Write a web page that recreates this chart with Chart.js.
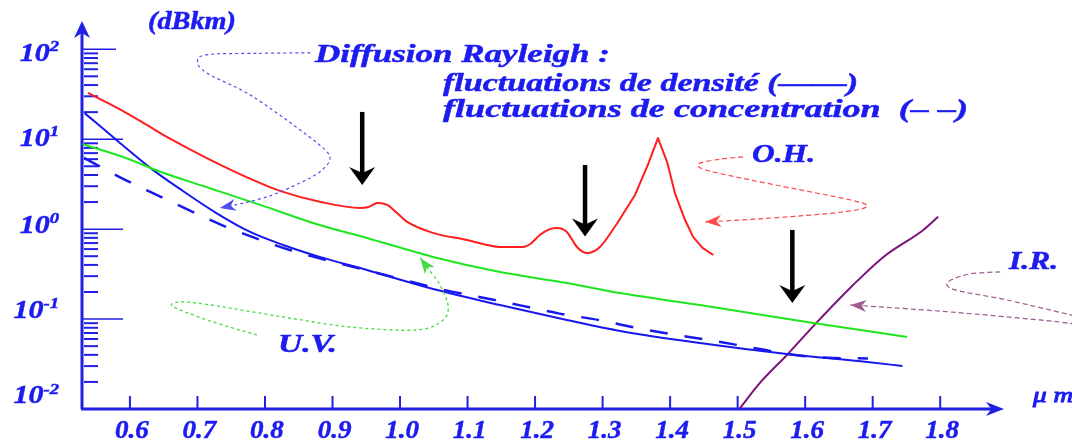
<!DOCTYPE html>
<html><head><meta charset="utf-8">
<script src="https://cdn.jsdelivr.net/npm/chart.js@4/dist/chart.umd.min.js"></script>
<style>html,body{margin:0;padding:0;background:#fff;overflow:hidden}#wrap{width:1072px;height:445px}</style>
</head><body><div id="wrap"><canvas id="c" width="1072" height="445"></canvas></div>
<script>
// ---- data (wavelength in µm, attenuation in dB/km) ----
const totalX = [0.538,0.566,0.595,0.625,0.654,0.719,0.788,0.822,0.881,0.941,0.953,0.967,0.981,0.996,1.010,1.049,1.099,1.148,1.182,1.193,1.207,1.222,1.233,1.247,1.262,1.277,1.296,1.321,1.348,1.367,1.382,1.396,1.407,1.422,1.434,1.448,1.464];
const totalY = [32.7,25.5,19.5,14.4,10.7,5.9,3.37,2.66,2.02,1.72,1.76,1.95,1.86,1.5,1.21,0.908,0.758,0.634,0.634,0.684,0.862,1.0,1.03,0.93,0.634,0.543,0.634,1.14,2.40,5.17,10.3,5.45,2.53,1.27,0.819,0.618,0.516];
const densX = [0.533,0.580,0.634,0.674,0.728,0.778,0.827,0.881,0.951,1.049,1.148,1.247,1.326,1.444,1.573,1.692,1.744];
const densY = [19.5,9.8,4.56,2.80,1.51,0.931,0.667,0.491,0.351,0.216,0.143,0.0977,0.0738,0.0542,0.0409,0.0333,0.0301];
const concX = [0.532,0.587,0.638,0.685,0.736,0.787,0.839,0.950,1.063,1.121,1.178,1.236,1.293,1.351,1.409,1.467,1.524,1.585,1.641,1.693];
const concY = [6.2,3.72,2.43,1.66,1.11,0.789,0.579,0.35,0.213,0.174,0.142,0.115,0.098,0.0796,0.0665,0.057,0.0477,0.0399,0.0369,0.0365];
const uvX = [0.530,0.595,0.644,0.7185,0.793,0.881,0.951,1.049,1.148,1.247,1.326,1.444,1.612,1.751];
const uvY = [8.8,6.15,4.37,2.85,1.86,1.11,0.798,0.491,0.334,0.252,0.195,0.143,0.0906,0.0632];
const irX = [1.503,1.533,1.573,1.618,1.671,1.716,1.775,1.797];
const irY = [0.0101,0.0195,0.0399,0.093,0.239,0.491,0.98,1.37];
const xTickLabels = ['0.6','0.7','0.8','0.9','1.0','1.1','1.2','1.3','1.4','1.5','1.6','1.7','1.8'];
const yDecadeExp = [2,1,0,-1,-2];
const arrowX = [0.944,1.274,1.581];
const arrowTop = [20.1,5.17,0.98];
const arrowTip = [3.1,0.826,0.151];
// callout paths: [µm, log10(dB/km)]
const calloutRayleigh = [[0.867,1.960],[0.790,1.955],[0.715,1.940],[0.700,1.860],[0.715,1.730],[0.778,1.493],[0.852,1.103],[0.889,0.881],[0.896,0.770],[0.881,0.636],[0.852,0.514],[0.807,0.369],[0.756,0.269],[0.733,0.236]];
const calloutOH = [[1.508,0.803],[1.474,0.778],[1.443,0.730],[1.450,0.665],[1.504,0.570],[1.593,0.436],[1.667,0.325],[1.692,0.258],[1.667,0.202],[1.593,0.147],[1.504,0.102],[1.452,0.080]];
const calloutIRa = [[1.889,-0.476],[1.844,-0.498],[1.812,-0.587],[1.822,-0.676],[1.899,-0.788],[2.0,-0.966]];
const calloutIRb = [[2.0,-1.055],[1.948,-1.010],[1.815,-0.921],[1.711,-0.865],[1.667,-0.843]];
const calloutUV = [[0.788,-1.177],[0.723,-1.032],[0.671,-0.888],[0.662,-0.832],[0.681,-0.810],[0.729,-0.854],[0.827,-0.977],[0.926,-1.088],[1.025,-1.121],[1.064,-1.010],[1.071,-0.843],[1.059,-0.621],[1.041,-0.432],[1.030,-0.320]];

const pts = (xs, ys) => xs.map((x, i) => ({x, y: ys[i]}));
const ohStart = totalX.indexOf(1.321);
const FONT = '"Liberation Serif","Times New Roman",serif';
const TEXT_BLUE = '#1c1cf0';
const AXIS_BLUE = '#2020e6';

function sText(ctx, str, x, y, size, targetW, opts) {
  opts = opts || {};
  ctx.save();
  ctx.font = 'italic ' + (opts.weight || 'bold') + ' ' + size + 'px ' + FONT;
  const w = ctx.measureText(str).width;
  const sx = targetW ? targetW / w : (opts.sx || 1);
  ctx.fillStyle = opts.color || TEXT_BLUE;
  ctx.strokeStyle = opts.color || TEXT_BLUE;
  ctx.lineWidth = opts.stroke === undefined ? 0.5 : opts.stroke;
  ctx.textBaseline = 'middle';
  let left = x;
  if (opts.align === 'center') left = x - w * sx / 2;
  else if (opts.align === 'right') left = x - w * sx;
  ctx.translate(left, y);
  ctx.scale(sx, 1);
  ctx.fillText(str, 0, 0);
  if (ctx.lineWidth > 0) ctx.strokeText(str, 0, 0);
  ctx.restore();
  return w * sx;
}
function textW(ctx, str, size, sx) {
  ctx.save();
  ctx.font = 'italic bold ' + size + 'px ' + FONT;
  const w = ctx.measureText(str).width * sx;
  ctx.restore();
  return w;
}
function smoothPath(ctx, p) {
  ctx.moveTo(p[0][0], p[0][1]);
  for (let i = 0; i < p.length - 1; i++) {
    const p0 = p[i - 1] || p[i], p1 = p[i], p2 = p[i + 1], p3 = p[i + 2] || p2;
    const c1 = [p1[0] + (p2[0] - p0[0]) / 6, p1[1] + (p2[1] - p0[1]) / 6];
    const c2 = [p2[0] - (p3[0] - p1[0]) / 6, p2[1] - (p3[1] - p1[1]) / 6];
    ctx.bezierCurveTo(c1[0], c1[1], c2[0], c2[1], p2[0], p2[1]);
  }
}
function dart(ctx, tip, from, len, half, color) {
  const dx = tip[0] - from[0], dy = tip[1] - from[1];
  const d = Math.hypot(dx, dy) || 1, ux = dx / d, uy = dy / d;
  const bx = tip[0] - ux * len, by = tip[1] - uy * len;
  ctx.save();
  ctx.fillStyle = color;
  ctx.beginPath();
  ctx.moveTo(tip[0], tip[1]);
  ctx.lineTo(bx - uy * half, by + ux * half);
  ctx.lineTo(tip[0] - ux * len * 0.7, tip[1] - uy * len * 0.7);
  ctx.lineTo(bx + uy * half, by - ux * half);
  ctx.closePath();
  ctx.fill();
  ctx.restore();
}

const decor = {
  id: 'decor',
  beforeDatasetsDraw(chart) {
    const ctx = chart.ctx, xs = chart.scales.x, ys = chart.scales.y, a = chart.chartArea;
    ctx.save();
    ctx.strokeStyle = AXIS_BLUE; ctx.fillStyle = AXIS_BLUE;
    for (let e = -2; e <= 2; e++) {
      for (let m = 1; m <= 9; m++) {
        const v = m * Math.pow(10, e);
        if (v > 100.5 || v < 0.0105) continue;
        const py = ys.getPixelForValue(v);
        ctx.beginPath();
        if (m === 1) { ctx.lineWidth = 1.5; ctx.moveTo(a.left, py); ctx.lineTo(a.left + (e === 2 ? 34 : 41), py); }
        else { ctx.lineWidth = 2; ctx.moveTo(a.left + 2, py); ctx.lineTo(a.left + 16, py); }
        ctx.stroke();
      }
    }
    ctx.lineWidth = 2;
    xTickLabels.forEach(l => {
      const px = xs.getPixelForValue(parseFloat(l));
      ctx.beginPath(); ctx.moveTo(px, a.bottom); ctx.lineTo(px, a.bottom - 13); ctx.stroke();
    });
    ctx.lineWidth = 3;
    ctx.beginPath(); ctx.moveTo(a.left, a.bottom); ctx.lineTo(a.left, a.top + 8); ctx.stroke();
    ctx.beginPath(); ctx.moveTo(a.left - 1, a.bottom); ctx.lineTo(a.right - 8, a.bottom); ctx.stroke();
    dart(ctx, [a.left, a.top - 1], [a.left, a.top + 30], 17, 8, AXIS_BLUE);
    dart(ctx, [a.right + 1, a.bottom], [a.right - 30, a.bottom], 18, 7, AXIS_BLUE);
    ctx.restore();
  },
  afterDatasetsDraw(chart) {
    const ctx = chart.ctx, xs = chart.scales.x, ys = chart.scales.y;
    const P = p => [xs.getPixelForValue(p[0]), ys.getPixelForValue(Math.pow(10, p[1]))];
    const callout = (path, color, dash, lw, arrow) => {
      const p = path.map(P);
      ctx.save();
      ctx.strokeStyle = color; ctx.lineWidth = lw; ctx.setLineDash(dash);
      ctx.beginPath(); smoothPath(ctx, p); ctx.stroke();
      ctx.restore();
      if (arrow) dart(ctx, p[p.length - 1], p[p.length - 2], 16, 6, color);
    };
    callout(calloutRayleigh, '#5050f0', [3, 3], 1.2, true);
    callout(calloutOH, '#ff4a4a', [5, 3], 1.2, true);
    callout(calloutIRa, '#a05a8c', [5, 3], 1.2, false);
    callout(calloutIRb, '#a05a8c', [5, 3], 1.2, true);
    callout(calloutUV, '#40dd40', [3, 3], 1.3, true);
    ctx.save();
    ctx.strokeStyle = '#000'; ctx.fillStyle = '#000';
    arrowX.forEach((x, i) => {
      const px = xs.getPixelForValue(x);
      const t = ys.getPixelForValue(arrowTop[i]), b = ys.getPixelForValue(arrowTip[i]);
      ctx.lineWidth = 4.5;
      ctx.beginPath(); ctx.moveTo(px, t); ctx.lineTo(px, b - 10); ctx.stroke();
      ctx.beginPath();
      ctx.moveTo(px, b); ctx.lineTo(px - 13, b - 18); ctx.lineTo(px, b - 12); ctx.lineTo(px + 13, b - 18);
      ctx.closePath(); ctx.fill();
    });
    ctx.restore();
    const yOff = [5, 0, -3, -8, -12];
    yDecadeExp.forEach((e, i) => {
      const py = ys.getPixelForValue(Math.pow(10, e)) + yOff[i];
      const es = e < 0 ? '-' + (-e) : String(e);
      const we = textW(ctx, es, 15, 1.25), wb = textW(ctx, '10', 25, 1.2);
      const right = 59;
      sText(ctx, '10', right - we - wb, py, 25, 0, {sx: 1.2});
      sText(ctx, es, right - we, py - 7, 15, 0, {sx: 1.25});
    });
    xTickLabels.forEach(l => {
      sText(ctx, l, xs.getPixelForValue(parseFloat(l)) + 2, 432, 25, 0, {sx: 1.08, align: 'center'});
    });
    sText(ctx, '(dBkm)', 148, 23, 25, 88);
    sText(ctx, 'Diffusion Rayleigh :', 315, 56, 25, 295);
    sText(ctx, 'fluctuations de densité (——)', 443, 85, 25, 415);
    sText(ctx, 'fluctuations de concentration  (– –)', 443, 111, 25, 525);
    sText(ctx, 'O.H.', 752, 156, 25, 63);
    sText(ctx, 'I.R.', 1009, 263, 25, 49);
    sText(ctx, 'U.V.', 278, 346, 25, 59);
    sText(ctx, 'μ m', 1033, 396, 21, 40, {weight: 'normal', stroke: 0});
  }
};

const totalPts = pts(totalX, totalY);
new Chart(document.getElementById('c'), {
  type: 'line',
  data: {
    datasets: [
      {label: 'Total', data: totalPts.slice(0, ohStart + 1), borderColor: '#ff1e1e', borderWidth: 2, cubicInterpolationMode: 'monotone', pointRadius: 0},
      {label: 'Total (pic OH)', data: totalPts.slice(ohStart), borderColor: '#ff1e1e', borderWidth: 2, tension: 0, borderJoinStyle: 'round', pointRadius: 0},
      {label: 'U.V.', data: pts(uvX, uvY), borderColor: '#1ee61e', borderWidth: 2, cubicInterpolationMode: 'monotone', pointRadius: 0},
      {label: 'Rayleigh densité', data: pts(densX, densY), borderColor: '#1818ee', borderWidth: 2, cubicInterpolationMode: 'monotone', pointRadius: 0},
      {label: 'Rayleigh concentration', data: pts(concX, concY), borderColor: '#1818ee', borderWidth: 2.5, borderDash: [18, 17], cubicInterpolationMode: 'monotone', pointRadius: 0},
      {label: 'I.R.', data: pts(irX, irY), borderColor: '#7d127d', borderWidth: 2, cubicInterpolationMode: 'monotone', pointRadius: 0}
    ]
  },
  options: {
    responsive: false, animation: false, devicePixelRatio: 1,
    layout: {padding: {top: 22, right: 69, left: 0, bottom: 0}},
    plugins: {legend: {display: false}, tooltip: {enabled: false}},
    scales: {
      x: {type: 'linear', min: 0.529, max: 1.893, grid: {display: false}, border: {display: false}, ticks: {display: false},
          afterFit: s => { s.height = 36; }},
      y: {type: 'logarithmic', min: 0.01, max: 201, grid: {display: false}, border: {display: false}, ticks: {display: false},
          afterFit: s => { s.width = 82; }}
    }
  },
  plugins: [decor]
});
</script></body></html>
